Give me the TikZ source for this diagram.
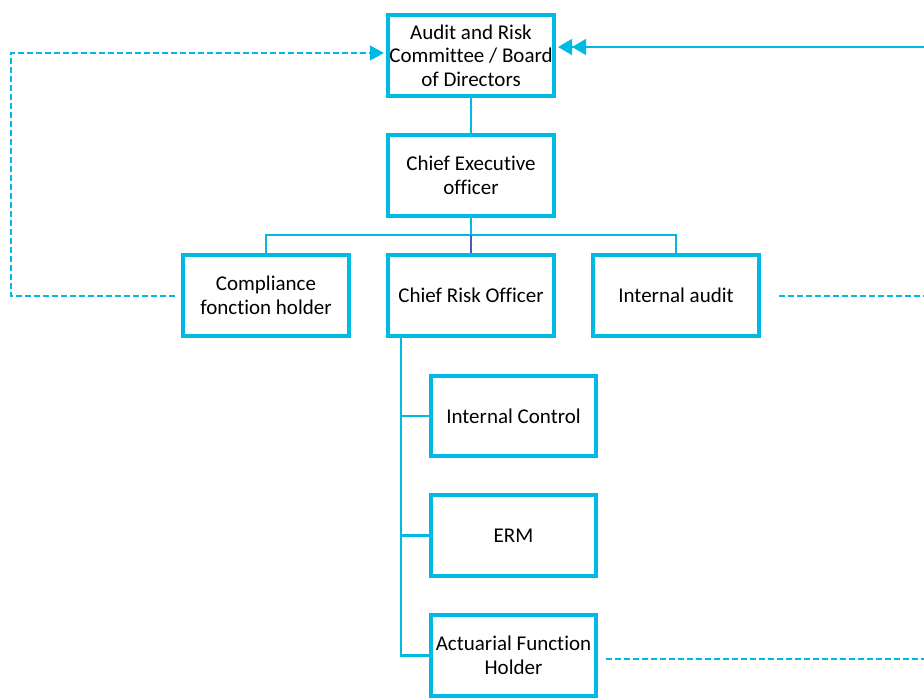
\documentclass[tikz,border=0pt]{standalone}
\usepackage{fontspec}
\setmainfont{Carlito}[Ligatures=NoCommon,RawFeature=-liga]
\usetikzlibrary{arrows.meta}
\definecolor{cy}{RGB}{0,186,230}
\definecolor{dk}{RGB}{70,96,180}
\begin{document}
\begin{tikzpicture}[x=1pt,y=-1pt,
  box/.style={draw=cy,line width=4.2pt,minimum width=166pt,minimum height=81pt,inner sep=0pt,align=center,font=\fontsize{21}{23.5}\selectfont},
  sbox/.style={box,minimum width=165pt},
  conn/.style={draw=cy,line width=2.2pt},
  dashline/.style={draw=cy,line width=1.3pt,dash pattern=on 6pt off 3pt},
  tipa/.style={-{Triangle[length=14pt,width=15pt]}},
  tipb/.style={-{Triangle[length=14pt,width=16pt]Triangle[length=14pt,width=16pt]}}]
\useasboundingbox (0,0) rectangle (924,697);
\node[box] (arc) at (471,55.5) {Audit and Risk\\Committee / Board\\of Directors};
\node[box] (ceo) at (471,175.5) {Chief Executive\\officer};
\node[box] (comp) at (266,295.5) {Compliance\\fonction holder};
\node[box] (cro) at (471,295.5) {Chief Risk Officer};
\node[box] (ia) at (676,295.5) {Internal audit};
\node[sbox,minimum height=80pt] (ic) at (513.5,416) {Internal Control};
\node[sbox] (erm) at (513.5,535.5) {ERM};
\node[sbox] (act) at (513.5,655.5) {Actuarial Function\\Holder};
\coordinate (bus) at (471,235);
\coordinate (lc) at (11,53);
\coordinate (rtop) at (924,47);
\coordinate (r1) at (924,296);
\coordinate (r2) at (924,659);
\coordinate (crox) at ([xshift=15pt]cro.south west);
% tree connectors
\draw[conn] (arc.south) -- (ceo.north);
\draw[conn] (ceo.south) -- (bus);
\draw[conn] (comp.north) -- (comp.north |- bus) -| (ia.north);
\draw[conn,draw=dk] (bus) -- (cro.north);
\draw[conn] (crox) |- (act.west);
\draw[conn] (crox |- ic.west) -- (ic.west);
\draw[conn] (crox |- erm.west) -- (erm.west);
% reporting lines
\draw[dashline,tipa,shorten >=2pt] ([xshift=-6pt,yshift=-0.5pt]comp.west) -- ([yshift=-0.5pt]comp.west -| lc) -- (lc) -- (lc -| arc.west);
\draw[draw=cy,line width=1.8pt,tipb,shorten >=2pt] (rtop) -- (rtop -| arc.east);
\draw[dashline] ([xshift=18pt,yshift=-0.5pt]ia.east) -- (r1);
\draw[dashline] ([xshift=8pt,yshift=-3.5pt]act.east) -- (r2);
\end{tikzpicture}
\end{document}
